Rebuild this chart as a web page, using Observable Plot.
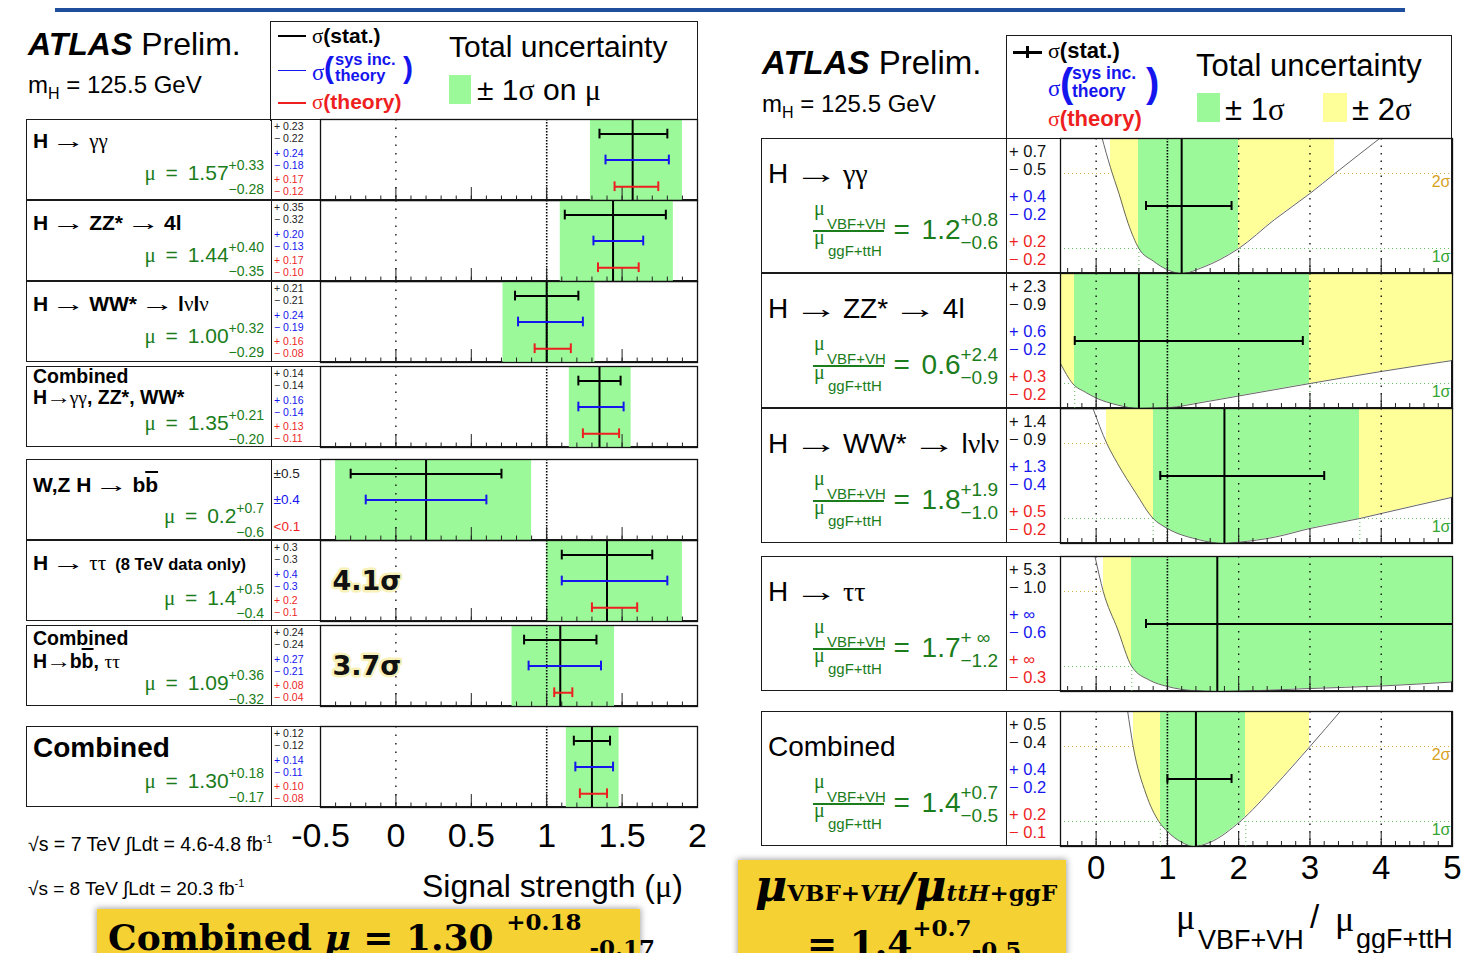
<!DOCTYPE html>
<html>
<head>
<meta charset="utf-8">
<title>Higgs boson signal strengths</title>
<script src="https://cdn.jsdelivr.net/npm/d3@7"></script>
<script src="https://cdn.jsdelivr.net/npm/@observablehq/plot@0.6"></script>
<style>
  html, body { margin: 0; padding: 0; background: #fff; }
  body { position: relative; width: 1477px; height: 953px; overflow: hidden;
         font-family: "Liberation Sans", Arial, Helvetica, sans-serif; color: #000; }
  .t { position: absolute; white-space: pre; line-height: 1; }
  .g { font-family: "Liberation Serif", "Times New Roman", serif; font-weight: normal; font-style: normal; }
  .arr { display: inline-block; transform: scaleX(1.6); margin: 0 0.2em; font-weight: normal; }
  .box { position: absolute; box-sizing: border-box; border: 1.3px solid #1a1a1a; }
  .blk { position: absolute; }
  .plot { position: absolute; }
  .plot svg { overflow: visible; }
</style>
</head>
<body>
<script>
// ---------------- signal strength per channel ----------------
const channels = ["H → γγ", "H → ZZ* → 4l", "H → WW* → lνlν", "Combined\nH→γγ, ZZ*, WW*",
                  "W,Z H → bb̄", "H → ττ", "Combined\nH→bb̄, ττ", "Combined"];
const channelNotes = ["", "", "", "", "", "(8 TeV data only)", "", ""];
const mu      = [1.57, 1.44, 1.00, 1.35, 0.2, 1.4, 1.09, 1.30];
const totUp   = [0.33, 0.40, 0.32, 0.21, 0.7, 0.5, 0.36, 0.18];
const totDn   = [0.28, 0.35, 0.29, 0.20, 0.6, 0.4, 0.32, 0.17];
const statUp  = [0.23, 0.35, 0.21, 0.14, 0.5, 0.3, 0.24, 0.12];
const statDn  = [0.22, 0.32, 0.21, 0.14, 0.5, 0.3, 0.24, 0.12];
const sysUp   = [0.24, 0.20, 0.24, 0.16, 0.4, 0.4, 0.27, 0.14];
const sysDn   = [0.18, 0.13, 0.19, 0.14, 0.4, 0.3, 0.21, 0.11];
const thUp    = [0.17, 0.17, 0.16, 0.13, null, 0.2, 0.08, 0.10];
const thDn    = [0.12, 0.10, 0.08, 0.11, null, 0.1, 0.04, 0.08];
const thLimit = [null, null, null, null, 0.1, null, null, null];
const decimals = [2, 2, 2, 2, 1, 1, 2, 2];
const significance = [null, null, null, null, null, 4.1, 3.7, null];
const muTicks = [-0.5, 0, 0.5, 1, 1.5, 2];

// ---------------- ratio μVBF+VH / μggF+ttH ----------------
const ratioChannels = ["H → γγ", "H → ZZ* → 4l", "H → WW* → lνlν", "H → ττ", "Combined"];
const ratio   = [1.2, 0.6, 1.8, 1.7, 1.4];
const ratioUp = [0.8, 2.4, 1.9, Infinity, 0.7];
const ratioDn = [0.6, 0.9, 1.0, 1.2, 0.5];
const rStatUp = [0.7, 2.3, 1.4, 5.3, 0.5];
const rStatDn = [0.5, 0.9, 0.9, 1.0, 0.4];
const rSysUp  = [0.4, 0.6, 1.3, Infinity, 0.4];
const rSysDn  = [0.2, 0.2, 0.4, 0.6, 0.2];
const rThUp   = [0.2, 0.3, 0.5, Infinity, 0.2];
const rThDn   = [0.2, 0.2, 0.2, 0.3, 0.1];
const twoSigmaLo = [0.2, -Infinity, 0.15, 0.1, 0.52];
const twoSigmaHi = [3.35, Infinity, Infinity, Infinity, 3.0];
const ratioTicks = [0, 1, 2, 3, 4, 5];
// likelihood scans, −2 ln Λ versus the ratio
const nllGG   = [[0.08,5.45],[0.2,4.25],[0.32,3.2],[0.45,2.0],[0.6,1.0],[0.8,0.5],[1.0,0.15],[1.2,0],[1.5,0.25],[2.0,1.0],[2.5,2.15],[3.0,3.2],[3.35,4.0],[4.0,5.45]];
const nllZZ   = [[-0.5,1.8],[-0.33,1.0],[-0.15,0.65],[0,0.42],[0.3,0.14],[0.6,0],[1.0,0.03],[1.5,0.25],[2.0,0.5],[2.5,0.75],[3.0,1.0],[4.0,1.48],[5.0,1.92]];
const nllWW   = [[-0.05,5.45],[0.15,4.0],[0.3,3.2],[0.55,2.05],[0.8,1.0],[1.0,0.6],[1.4,0.18],[1.8,0],[2.0,0.05],[2.5,0.25],[3.0,0.6],[3.7,1.0],[4.0,1.2],[5.0,1.85]];
const nllTT   = [[-0.02,5.45],[0.1,4.0],[0.3,2.5],[0.5,1.0],[0.75,0.45],[1.0,0.2],[1.35,0.04],[1.7,0],[2.3,0.04],[3.0,0.12],[4.0,0.22],[5.0,0.38]];
const nllComb = [[0.44,5.45],[0.52,4.0],[0.7,2.1],[0.88,1.0],[1.0,0.6],[1.2,0.17],[1.37,0],[1.6,0.17],[2.02,1.0],[2.5,2.4],[3.0,4.0],[3.44,5.45]];
const nllScans = [nllGG, nllZZ, nllWW, nllTT, nllComb];

// ---------------- page layout ----------------
const W = 1477;
const SANS = '"Liberation Sans", Arial, Helvetica, sans-serif';
const SERIF = '"Liberation Serif", "Times New Roman", serif';
const DSERIF = '"DejaVu Serif", "Liberation Serif", serif';
const GREEN_BAND = "#9cf99a", YELLOW_BAND = "#ffff99";
const BLUE = "#1515ee", RED = "#ee1f1f", TXT_GREEN = "#1b7d1b", GOLD = "#f5d133";
const MINUS = "\u2212";
const fx = (v, d) => v.toFixed(d);
const esc = s => s.replace(/&/g, "&amp;").replace(/</g, "&lt;");

function put(html, o) {
  const d = document.createElement("div");
  d.className = "t";
  d.style.fontSize = o.fs + "px";
  d.style.top = (o.base - 0.846 * o.fs) + "px";
  if (o.right != null) d.style.right = (W - o.right) + "px"; else d.style.left = o.x + "px";
  if (o.color) d.style.color = o.color;
  if (o.bold) d.style.fontWeight = "bold";
  if (o.family) d.style.fontFamily = o.family;
  if (o.flex) { d.style.display = "flex"; d.style.alignItems = "baseline"; }
  if (o.css) d.style.cssText += ";" + o.css;
  d.innerHTML = html;
  document.body.appendChild(d);
  return d;
}
function block(x, y, w, h, css) {
  const d = document.createElement("div");
  d.className = "blk";
  d.style.cssText += `left:${x}px;top:${y}px;width:${w}px;height:${h}px;` + (css || "");
  document.body.appendChild(d);
  return d;
}
function frameBox(x, y, w, h, css) {
  const d = block(x, y, w, h, css);
  d.className = "box";
  return d;
}
const stack = (sup, sub, fs, lh, rise) =>
  `<span style="display:flex;flex-direction:column;font-size:${fs}px;line-height:${lh}px;position:relative;top:${-rise}px">` +
  `<span>${sup}</span><span>${sub}</span></span>`;
function fmtName(s) {
  return s.replace(/b\u0304/g, '<span style="text-decoration:overline;text-decoration-thickness:2px">b</span>')
          .replace(/ → /g, ' <span class="arr">→</span> ')
          .replace(/→(?!<)/g, '<span class="arr" style="transform:scaleX(1.3);margin:0 0.08em">→</span>')
          .replace(/([γτνμσ]+)/g, '<span class="g">$1</span>');
}
function mount(svg, x, y, w) {
  const d = document.createElement("div");
  d.className = "plot";
  d.style.left = x + "px"; d.style.top = y + "px"; d.style.width = w + "px";
  d.appendChild(svg);
  document.body.appendChild(d);
}

// banner rule
block(55, 8, 1350, 3.5, "background:#1f4f9c;");

// ================= left panel: μ per channel =================
const leftRows = [
  {top: 119, title: [29],     size: 21,   muBase: 61},
  {top: 200, title: [30],     size: 21,   muBase: 62},
  {top: 281, title: [30],     size: 21,   muBase: 62},
  {top: 366, title: [17.5, 38.5], size: 19.5, muBase: 64},
  {top: 459, title: [32.5],   size: 21,   muBase: 64},
  {top: 540, title: [29.5],   size: 21,   muBase: 64.5},
  {top: 625, title: [20, 43], size: 19.5, muBase: 65},
  {top: 726, title: [32],     size: 28,   muBase: 62}
];
const PL = {x: 320, w: 377, h: 81};
const muMinor = d3.ticks(-0.5, 2, 25);

function muPanel(i, last) {
  const m = mu[i];
  const row = [{mu: m}];
  const bars = [
    {kind: "stat", y: 0.82, x1: m - statDn[i], x2: m + statUp[i]},
    {kind: "sys",  y: 0.50, x1: m - sysDn[i],  x2: m + sysUp[i]}
  ];
  if (thUp[i] != null) bars.push({kind: "th", y: 0.17, x1: m - thDn[i], x2: m + thUp[i]});
  const caps = bars.flatMap(b => [{kind: b.kind, y: b.y, x: b.x1}, {kind: b.kind, y: b.y, x: b.x2}]);
  const colour = {stat: "#000", sys: BLUE, th: RED};
  const capH = 0.06;
  const marks = [
    Plot.rect(row, {x1: d => d.mu - totDn[i], x2: d => d.mu + totUp[i], y1: () => 0, y2: () => 1, fill: GREEN_BAND}),
    Plot.ruleX([0], {stroke: "#000", strokeWidth: 1.3, strokeDasharray: "1.5,7"}),
    Plot.ruleX([1], {stroke: "#000", strokeWidth: 1.6, strokeDasharray: "1.5,1.5"}),
    Plot.ruleX(muMinor, {y1: () => 0, y2: () => 0.055, stroke: "#222", strokeWidth: 1}),
    Plot.ruleX(muTicks, {y1: () => 0, y2: () => 0.16, stroke: "#222", strokeWidth: 1}),
    Plot.ruleX(row, {x: "mu", stroke: "#000", strokeWidth: 2})
  ];
  for (const k of ["stat", "sys", "th"]) {
    marks.push(Plot.ruleY(bars.filter(b => b.kind === k), {y: "y", x1: "x1", x2: "x2", stroke: colour[k], strokeWidth: 2}));
    marks.push(Plot.ruleX(caps.filter(c => c.kind === k), {x: "x", y1: d => d.y - capH, y2: d => d.y + capH, stroke: colour[k], strokeWidth: 2}));
  }
  if (significance[i] != null) {
    marks.push(Plot.text(row, {frameAnchor: "left", y: () => 0.5, dx: 12, text: () => `${significance[i]}σ`,
      textAnchor: "start", lineAnchor: "middle", fontSize: 27, fontWeight: "bold", fontFamily: '"DejaVu Sans", sans-serif',
      fill: "#111", stroke: "#f8efb0", strokeWidth: 5, strokeOpacity: 0.9}));
  }
  marks.push(Plot.frame({stroke: "#111", strokeWidth: 1.3}));
  return Plot.plot({
    width: PL.w, height: PL.h + (last ? 60 : 0),
    marginLeft: 0, marginRight: 0, marginTop: 0, marginBottom: last ? 60 : 0,
    x: last ? {domain: [-0.5, 2], ticks: muTicks, tickSize: 0, tickPadding: 15, tickFormat: d => String(d), label: null}
            : {domain: [-0.5, 2], axis: null},
    y: {domain: [0, 1], axis: null},
    style: {background: "transparent", overflow: "visible", fontFamily: SANS, fontSize: "34px", color: "#000"},
    marks
  });
}

channels.forEach((name, i) => {
  const L = leftRows[i];
  const d = decimals[i];
  frameBox(25.5, L.top, 672, PL.h);
  block(270.5, L.top, 1.3, PL.h, "background:#1a1a1a;");
  const lines = name.split("\n");
  lines.forEach((ln, k) => {
    const note = (k === lines.length - 1 && channelNotes[i]) ? `<span style="font-size:16.5px">  ${channelNotes[i]}</span>` : "";
    put(fmtName(ln) + note, {x: 33, base: L.top + L.title[k], fs: L.size, bold: true});
  });
  put(`<span style="word-spacing:4px"><span class="g">μ</span> = ${fx(mu[i], d)}</span>` +
      stack("+" + fx(totUp[i], d), MINUS + fx(totDn[i], d), 14, 24, 10.5),
      {right: 264, base: L.top + L.muBase, fs: 21, color: TXT_GREEN, flex: true});
  if (thLimit[i] != null) {
    put("±" + fx(statUp[i], d), {x: 273.5, base: L.top + 19.7, fs: 13.5, color: "#222"});
    put("±" + fx(sysUp[i], d), {x: 273.5, base: L.top + 45.7, fs: 13.5, color: BLUE});
    put(esc("<" + fx(thLimit[i], d)), {x: 273.5, base: L.top + 72.3, fs: 13.5, color: RED});
  } else {
    const offs = [11, 23, 38, 50, 64, 75.5];
    const rows = [["+", statUp, "#222"], [MINUS, statDn, "#222"], ["+", sysUp, BLUE], [MINUS, sysDn, BLUE], ["+", thUp, RED], [MINUS, thDn, RED]];
    rows.forEach(([s, arr, c], k) => put(`${s} ${fx(arr[i], d)}`, {x: 274, base: L.top + offs[k], fs: 10.5, color: c}));
  }
  mount(muPanel(i, i === channels.length - 1), PL.x, L.top, PL.w);
});

// left header and legend
put('<b><i>ATLAS</i></b> Prelim.', {x: 28, base: 55, fs: 32});
put('<span>m</span><span style="font-size:16px;position:relative;top:6px">H</span><span> = 125.5 GeV</span>', {x: 28, base: 93, fs: 24, flex: true});
frameBox(270, 20.5, 427.5, 100, "border-bottom:none;");
block(278, 35, 28, 1.6, "background:#000;");
block(278, 69.5, 28, 1.6, `background:${BLUE};`);
block(278, 102, 28, 1.6, `background:${RED};`);
put('<span class="g">σ</span><b>(stat.)</b>', {x: 312, base: 43, fs: 21});
put('σ', {x: 312, base: 80, fs: 23, color: BLUE, family: SERIF});
put('(', {x: 324, base: 78, fs: 30, color: BLUE, bold: true});
put('sys inc.', {x: 335, base: 65, fs: 16.5, color: BLUE, bold: true});
put('theory', {x: 335, base: 81, fs: 16.5, color: BLUE, bold: true});
put(')', {x: 403, base: 78, fs: 30, color: BLUE, bold: true});
put('<span class="g">σ</span><b>(theory)</b>', {x: 312, base: 109, fs: 21, color: RED});
put('Total uncertainty', {x: 449, base: 57, fs: 30});
block(449, 75, 22, 29, `background:${GREEN_BAND};`);
put('± 1<span class="g">σ</span> on <span class="g">μ</span>', {x: 477, base: 100, fs: 30});

// left footer
put('<span>√s = 7 TeV ∫Ldt = 4.6-4.8 fb</span><span style="font-size:11px;position:relative;top:-8px">-1</span>', {x: 28, base: 851, fs: 19.5, flex: true});
put('<span>√s = 8 TeV ∫Ldt = 20.3 fb</span><span style="font-size:11px;position:relative;top:-8px">-1</span>', {x: 28, base: 895, fs: 19, flex: true});
put('Signal strength (<span class="g">μ</span>)', {x: 422, base: 897, fs: 32});
block(97, 909, 543, 60, `background:${GOLD};box-shadow:0 0 6px 1px rgba(0,0,0,0.35);`);
put(`<span>Combined <i>μ</i> = ${fx(mu[7], 2)} </span>` +
    `<span style="font-size:23px;position:relative;top:-20px">+${fx(totUp[7], 2)}</span>` +
    `<span style="font-size:23px;position:relative;top:6px"> -${fx(totDn[7], 2)}</span>`,
    {x: 108, base: 949, fs: 36, family: DSERIF, bold: true, flex: true});

// ================= right panel: ratio of production modes =================
const rightRows = [{top: 138}, {top: 273}, {top: 408}, {top: 556}, {top: 711}];
const PR = {x: 1059.5, w: 392, h: 135};
const YMAX = 5.4;
const ratioMinor = d3.ticks(-0.5, 5, 28);
const svgNS = "http://www.w3.org/2000/svg";

function ratioPanel(i, last) {
  const r = ratio[i];
  const pts = nllScans[i].map(([x, v]) => ({x, v}));
  const lo1 = r - ratioDn[i], hi1 = r + ratioUp[i];
  const edges = [lo1, hi1].filter(Number.isFinite);
  const bar = [{y: 2.7, x1: r - rStatDn[i], x2: r + rStatUp[i]}];
  const caps = [{y: 2.7, x: bar[0].x1}, {y: 2.7, x: bar[0].x2}];
  const gid = "band" + i;
  const chart = Plot.plot({
    width: PR.w, height: PR.h + (last ? 60 : 0),
    marginLeft: 0, marginRight: 0, marginTop: 0, marginBottom: last ? 60 : 0,
    x: last ? {domain: [-0.5, 5], ticks: ratioTicks, tickSize: 0, tickPadding: 9, tickFormat: d => String(d), label: null}
            : {domain: [-0.5, 5], axis: null},
    y: {domain: [0, YMAX], axis: null},
    style: {background: "transparent", overflow: "visible", fontFamily: SANS, fontSize: "33px", color: "#000"},
    marks: [
      Plot.ruleY([1], {stroke: "#66c466", strokeWidth: 1, strokeDasharray: "1,3"}),
      Plot.ruleY([4], {stroke: "#dab24a", strokeWidth: 1, strokeDasharray: "1,3"}),
      Plot.text([{t: "1σ", lvl: 1}], {text: "t", y: "lvl", frameAnchor: "right", textAnchor: "end", dx: -2, dy: 8,
        lineAnchor: "middle", fontSize: 16, fill: "#33a533", fontFamily: SANS}),
      Plot.text([{t: "2σ", lvl: 4}], {text: "t", y: "lvl", frameAnchor: "right", textAnchor: "end", dx: -2, dy: 8.5,
        lineAnchor: "middle", fontSize: 16, fill: "#d6a21e", fontFamily: SANS}),
      Plot.ruleX(edges, {y1: () => 0, y2: () => 1, stroke: "#55bb55", strokeWidth: 1, strokeDasharray: "1,3"}),
      Plot.areaY(pts, {x: "x", y1: d => Math.min(d.v, YMAX), y2: () => YMAX, fill: `url(#${gid})`, curve: "monotone-x"}),
      Plot.ruleX([0, 2, 3, 4], {stroke: "#000", strokeWidth: 1.3, strokeDasharray: "1.5,6"}),
      Plot.ruleX([1], {stroke: "#000", strokeWidth: 1.6, strokeDasharray: "1.5,1.5"}),
      Plot.line(pts, {x: "x", y: "v", stroke: "#555", strokeWidth: 0.9, curve: "monotone-x", clip: true}),
      Plot.ruleX(ratioMinor, {y1: () => 0, y2: () => 0.2, stroke: "#222", strokeWidth: 1}),
      Plot.ruleX(ratioTicks, {y1: () => 0, y2: () => 0.56, stroke: "#222", strokeWidth: 1}),
      Plot.ruleX([r], {stroke: "#000", strokeWidth: 2}),
      Plot.ruleY(bar, {y: "y", x1: "x1", x2: "x2", stroke: "#000", strokeWidth: 2, clip: true}),
      Plot.ruleX(caps, {x: "x", y1: d => d.y - 0.18, y2: d => d.y + 0.18, stroke: "#000", strokeWidth: 2, clip: true}),
      Plot.frame({stroke: "#111", strokeWidth: 1.3})
    ]
  });
  // horizontal colour ramp: yellow inside the 2σ interval, green inside 1σ
  const xs = chart.scale("x");
  const pos = v => {
    const p = xs.apply(Math.max(-1e3, Math.min(1e3, v))) / PR.w;
    return Math.max(0, Math.min(1, p));
  };
  const none = ["#ffffff", 0];
  const stops = [
    [0, none], [pos(twoSigmaLo[i]), none], [pos(twoSigmaLo[i]), [YELLOW_BAND, 1]], [pos(lo1), [YELLOW_BAND, 1]],
    [pos(lo1), [GREEN_BAND, 1]], [pos(hi1), [GREEN_BAND, 1]], [pos(hi1), [YELLOW_BAND, 1]],
    [pos(twoSigmaHi[i]), [YELLOW_BAND, 1]], [pos(twoSigmaHi[i]), none], [1, none]
  ];
  const defs = document.createElementNS(svgNS, "defs");
  const grad = document.createElementNS(svgNS, "linearGradient");
  grad.setAttribute("id", gid);
  grad.setAttribute("gradientUnits", "userSpaceOnUse");
  grad.setAttribute("x1", 0); grad.setAttribute("y1", 0);
  grad.setAttribute("x2", PR.w); grad.setAttribute("y2", 0);
  for (const [off, [c, o]] of stops) {
    const s = document.createElementNS(svgNS, "stop");
    s.setAttribute("offset", off);
    s.setAttribute("stop-color", c);
    s.setAttribute("stop-opacity", o);
    grad.appendChild(s);
  }
  defs.appendChild(grad);
  chart.insertBefore(defs, chart.firstChild);
  return chart;
}

const numFmt = v => Number.isFinite(v) ? fx(v, 1) : "∞";
ratioChannels.forEach((name, i) => {
  const top = rightRows[i].top;
  frameBox(760.5, top, 691, PR.h);
  block(1005.5, top, 1.3, PR.h, "background:#1a1a1a;");
  put(fmtName(name), {x: 768, base: top + 46, fs: 28});
  // fraction μVBF+VH / μggF+ttH
  put('μ', {x: 814, base: top + 77, fs: 20, color: TXT_GREEN, family: SERIF});
  put('VBF+VH', {x: 827, base: top + 91, fs: 15, color: TXT_GREEN});
  block(813, top + 92.3, 71, 1.3, `background:${TXT_GREEN};`);
  put('μ', {x: 814, base: top + 106, fs: 20, color: TXT_GREEN, family: SERIF});
  put('ggF+ttH', {x: 828, base: top + 118, fs: 15, color: TXT_GREEN});
  const sup = Number.isFinite(ratioUp[i]) ? "+" + fx(ratioUp[i], 1) : "+ ∞";
  put(`<span style="word-spacing:4px">= ${fx(ratio[i], 1)}</span>` + stack(sup, MINUS + fx(ratioDn[i], 1), 19, 23, 13),
      {right: 998, base: top + 102, fs: 28, color: TXT_GREEN, flex: true});
  const offs = [19, 37, 64, 82, 109, 127];
  const rows = [["+", rStatUp, "#111"], [MINUS, rStatDn, "#111"], ["+", rSysUp, BLUE], [MINUS, rSysDn, BLUE], ["+", rThUp, RED], [MINUS, rThDn, RED]];
  rows.forEach(([s, arr, c], k) => put(`${s} ${numFmt(arr[i])}`, {x: 1009, base: top + offs[k], fs: 16.5, color: c}));
  mount(ratioPanel(i, i === ratioChannels.length - 1), PR.x, top, PR.w);
});

// right header and legend
put('<b><i>ATLAS</i></b> Prelim.', {x: 762, base: 74, fs: 33});
put('<span>m</span><span style="font-size:16px;position:relative;top:6px">H</span><span> = 125.5 GeV</span>', {x: 762, base: 112, fs: 24, flex: true});
frameBox(1005.5, 35, 446, 104, "border-bottom:none;");
block(1013, 50.5, 29, 3, "background:#000;");
block(1026, 46, 3, 12, "background:#000;");
put('<span class="g">σ</span><b>(stat.)</b>', {x: 1048, base: 59, fs: 22});
put('σ', {x: 1048, base: 96, fs: 23, color: BLUE, family: SERIF});
put('(', {x: 1060, base: 97, fs: 40, color: BLUE, bold: true});
put('sys inc.', {x: 1072, base: 80, fs: 17.5, color: BLUE, bold: true});
put('theory', {x: 1072, base: 98, fs: 17.5, color: BLUE, bold: true});
put(')', {x: 1146, base: 97, fs: 40, color: BLUE, bold: true});
put('<span class="g">σ</span><b>(theory)</b>', {x: 1048, base: 127, fs: 22, color: RED});
put('Total uncertainty', {x: 1196, base: 76, fs: 31});
block(1197, 93, 23, 29, `background:${GREEN_BAND};`);
put('± 1<span class="g">σ</span>', {x: 1225, base: 120, fs: 31});
block(1323, 93, 24, 29, `background:${YELLOW_BAND};`);
put('± 2<span class="g">σ</span>', {x: 1352, base: 120, fs: 31});

// right axis title
put('μ', {x: 1176, base: 929, fs: 36, family: SERIF});
put('VBF+VH', {x: 1198, base: 950, fs: 27});
put('/', {x: 1310, base: 928, fs: 33});
put('μ', {x: 1335, base: 931, fs: 36, family: SERIF});
put('ggF+ttH', {x: 1356, base: 949, fs: 27});

// right result box
block(738, 860, 328, 100, `background:${GOLD};box-shadow:0 0 6px 1px rgba(0,0,0,0.35);`);
put('<span style="font-style:italic;font-size:44px">μ</span><span>VBF+</span><span style="font-style:italic">VH</span>' +
    '<span style="font-style:italic;font-size:40px">/</span><span style="font-style:italic;font-size:44px">μ</span>' +
    '<span style="font-style:italic">ttH</span><span>+ggF</span>',
    {x: 755, base: 901, fs: 23, family: DSERIF, bold: true, flex: true, css: "top:864px"});
put(`<span>= ${fx(ratio[4], 1)}</span>` +
    `<span style="font-size:23px;position:relative;top:-20px">+${fx(ratioUp[4], 1)}</span>` +
    `<span style="font-size:23px;position:relative;top:2px">-${fx(ratioDn[4], 1)}</span>`,
    {x: 807, base: 955, fs: 36, family: DSERIF, bold: true, flex: true});
</script>
</body>
</html>
